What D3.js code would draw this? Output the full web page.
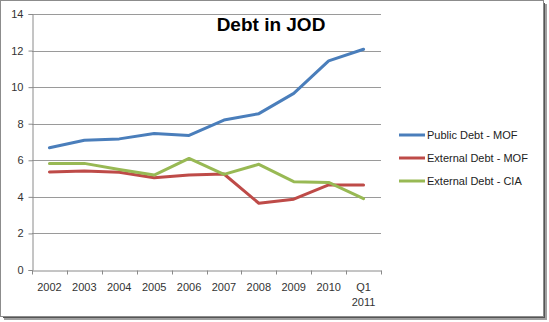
<!DOCTYPE html>
<html>
<head>
<meta charset="utf-8">
<script src="https://cdn.jsdelivr.net/npm/d3@7/dist/d3.min.js"></script>
<style>
  html, body { margin: 0; padding: 0; background: #ffffff; }
  svg { display: block; }
  text { font-family: "Liberation Sans", Arial, sans-serif; }
</style>
</head>
<body>
<svg id="chart" width="549" height="322"></svg>
<script>
const categories = ["2002", "2003", "2004", "2005", "2006", "2007", "2008", "2009", "2010", "Q1 2011"];
const publicDebtMOF = [6.69, 7.1, 7.17, 7.47, 7.36, 8.2, 8.55, 9.66, 11.44, 12.07];
const externalDebtMOF = [5.36, 5.41, 5.35, 5.05, 5.2, 5.25, 3.65, 3.87, 4.65, 4.65];
const externalDebtCIA = [5.83, 5.83, 5.5, 5.19, 6.1, 5.23, 5.78, 4.83, 4.79, 3.9];
const yTicks = [0, 2, 4, 6, 8, 10, 12, 14];
const seriesNames = ["Public Debt - MOF", "External Debt - MOF", "External Debt - CIA"];
const seriesColors = ["#4a7ebb", "#be4b48", "#98b954"];
const title = "Debt in JOD";

const series = [publicDebtMOF, externalDebtMOF, externalDebtCIA].map((values, i) => ({
  name: seriesNames[i], color: seriesColors[i], values
}));

const svg = d3.select("#chart");

// frame with shadow
svg.append("rect").attr("x", 4).attr("y", 4).attr("width", 543).attr("height", 316).attr("fill", "#a0a0a0");
svg.append("rect").attr("x", 3).attr("y", 3).attr("width", 542).attr("height", 315).attr("fill", "#555555");
svg.append("rect").attr("x", 0.5).attr("y", 0.5).attr("width", 543).attr("height", 316)
  .attr("fill", "#ffffff").attr("stroke", "#8c8c8c").attr("stroke-width", 1);

const plot = { left: 32, right: 381, top: 14, bottom: 270 };

const x = d3.scaleBand().domain(categories).range([plot.left, plot.right]);
const y = d3.scaleLinear().domain([0, 14]).range([plot.bottom, plot.top]);

// gridlines
svg.append("g").selectAll("line").data(yTicks.filter(t => t > 0)).join("line")
  .attr("x1", plot.left).attr("x2", plot.right)
  .attr("y1", d => Math.round(y(d)) + 0.5).attr("y2", d => Math.round(y(d)) + 0.5)
  .attr("stroke", "#9a9a9a").attr("stroke-width", 1);

// y axis
const yAxis = svg.append("g").attr("transform", `translate(${plot.left + 0.5},0)`)
  .call(d3.axisLeft(y).tickValues(yTicks).tickSize(4).tickPadding(5).tickFormat(d3.format("d")));
yAxis.select(".domain").attr("stroke", "#8a8a8a");
yAxis.selectAll(".tick line").attr("stroke", "#8a8a8a");
yAxis.selectAll(".tick text").attr("fill", "#333333").style("font-size", "11px")
  .style("font-family", "'Liberation Sans', Arial, sans-serif");

// x axis
const xAxis = svg.append("g").attr("transform", `translate(0,${plot.bottom + 0.5})`)
  .call(d3.axisBottom(x).tickSize(0).tickFormat(""));
xAxis.select(".domain").attr("stroke", "#8a8a8a");
const boundaries = categories.map(c => x(c)).concat([x.range()[1]]);
xAxis.selectAll(".bnd").data(boundaries).join("line").attr("class", "bnd")
  .attr("x1", d => Math.round(d) + 0.5).attr("x2", d => Math.round(d) + 0.5)
  .attr("y1", 0).attr("y2", 4).attr("stroke", "#8a8a8a");
const xl = svg.append("g").selectAll("text").data(categories).join("text")
  .attr("x", d => x(d) + x.bandwidth() / 2)
  .attr("y", 291)
  .attr("text-anchor", "middle")
  .attr("fill", "#333333")
  .style("font-size", "11px");
xl.each(function(d) {
  const parts = d.split(" ");
  const t = d3.select(this);
  parts.forEach((p, i) => {
    t.append("tspan").attr("x", x(d) + x.bandwidth() / 2).attr("dy", i === 0 ? 0 : 15).text(p);
  });
});

// lines
const line = d3.line()
  .x((d, i) => x(categories[i]) + x.bandwidth() / 2)
  .y(d => y(d));
svg.append("g").selectAll("path").data(series).join("path")
  .attr("d", d => line(d.values))
  .attr("fill", "none")
  .attr("stroke", d => d.color)
  .attr("stroke-width", 3)
  .attr("stroke-linejoin", "round")
  .attr("stroke-linecap", "round");

// title
svg.append("text").attr("x", 271).attr("y", 31).attr("text-anchor", "middle")
  .attr("fill", "#000000").style("font-size", "19px").style("font-weight", "bold").text(title);

// legend
const lg = svg.append("g").selectAll("g").data(series).join("g")
  .attr("transform", (d, i) => `translate(399,${135 + i * 23})`);
lg.append("line").attr("x1", 0).attr("x2", 26).attr("y1", 0).attr("y2", 0)
  .attr("stroke", d => d.color).attr("stroke-width", 3);
lg.append("text").attr("x", 28).attr("y", 4).attr("fill", "#222222")
  .style("font-size", "11px").text(d => d.name);
</script>
</body>
</html>
